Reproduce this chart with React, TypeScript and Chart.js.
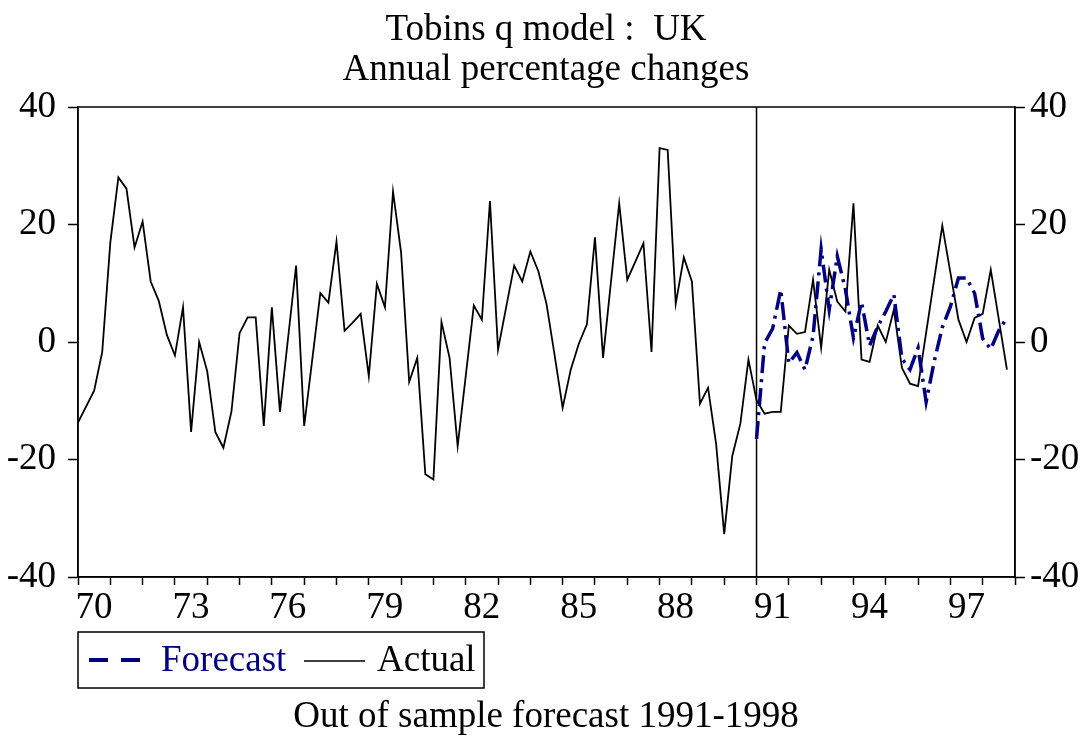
import { useEffect, useRef } from 'react';
import { Chart, registerables } from 'chart.js';

Chart.register(...registerables);

const FONT = "'Liberation Serif', 'Times New Roman', serif";
const TITLE_LINES = ['Tobins q model :  UK', 'Annual percentage changes'];
const CAPTION = 'Out of sample forecast 1991-1998';
const LEGEND_LABELS = ['Forecast', 'Actual'];

const START_YEAR = 1970;
const END_YEAR = 1999;
const FORECAST_START = 1991;

const xTickYears = [1970, 1971, 1972, 1973, 1974, 1975, 1976, 1977, 1978, 1979, 1980, 1981, 1982, 1983, 1984, 1985, 1986, 1987, 1988, 1989, 1990, 1991, 1992, 1993, 1994, 1995, 1996, 1997, 1998, 1999];
const xLabelYears = [1970, 1973, 1976, 1979, 1982, 1985, 1988, 1991, 1994, 1997];
const xLabelTexts = ['70', '73', '76', '79', '82', '85', '88', '91', '94', '97'];
const yTicks = [-40, -20, 0, 20, 40];

// Quarterly values, 1970Q1 .. 1998Q4
const actual = [
  -13.7, -11.0, -8.3, -1.7,
  16.9, 28.0, 26.1, 16.1,
  20.5, 10.3, 7.0, 1.2,
  -2.3, 5.9, -15.3, 0.0,
  -5.0, -15.3, -18.0, -11.8,
  1.5, 4.2, 4.2, -14.3,
  5.9, -11.9, 0.6, 13.0,
  -14.3, -3.0, 8.3, 6.7,
  17.1, 1.9, 3.3, 4.8,
  -5.8, 9.9, 5.9, 25.6,
  15.2, -6.8, -2.7, -22.5,
  -23.4, 3.4, -2.7, -17.7,
  -5.8, 6.2, 3.8, 24.0,
  -1.3, 5.9, 13.0, 10.3,
  15.4, 12.0, 6.5, -2.2,
  -11.2, -4.7, -0.3, 3.0,
  17.8, -2.7, 10.5, 23.6,
  10.6, 13.7, 16.8, -1.7,
  33.0, 32.7, 6.5, 14.4,
  10.3, -10.5, -7.8, -17.4,
  -32.7, -19.4, -13.9, -3.0,
  -9.9, -12.2, -11.9, -11.9,
  2.8, 1.4, 1.7, 10.6,
  -1.0, 12.3, 6.9, 5.2,
  23.6, -3.0, -3.4, 2.8,
  0.0, 5.5, -4.4, -7.1,
  -7.5, 1.6, 10.7, 19.8,
  11.8, 3.8, 0.0, 4.1,
  4.8, 12.3, 3.8, -4.7,
];

// Quarterly forecast, 1991Q1 .. 1998Q4
const forecast = [
  -16.5, -0.2, 2.3, 8.9,
  -3.6, -1.8, -4.7, 1.0,
  15.8, 5.5, 14.6, 9.0,
  0.7, 6.8, -0.6, 2.6,
  5.2, 8.1, -2.8, -4.7,
  -1.0, -10.2, -3.3, 2.5,
  6.0, 10.9, 10.9, 8.3,
  0.6, -1.2, 2.0, 4.1,
];

const NAVY = '#000080';
const FORECAST_DASH = [18, 6, 3, 6];

export default function App() {
  const ref = useRef<HTMLCanvasElement | null>(null);

  useEffect(() => {
    const canvas = ref.current;
    if (!canvas) return;

    const actualPts = actual.map((v, i) => ({ x: START_YEAR + i / 4, y: v }));
    const forecastPts = forecast.map((v, i) => ({ x: FORECAST_START + i / 4, y: v }));

    const tickFont = { family: FONT, size: 37, lineHeight: 1.2 };

    const framePlugin = {
      id: 'frameAndLegend',
      beforeDatasetsDraw(chart: any) {
        const { ctx, chartArea: a, scales } = chart;
        ctx.save();
        ctx.strokeStyle = '#000';
        ctx.lineWidth = 1.5;
        ctx.strokeRect(a.left, a.top, a.right - a.left, a.bottom - a.top);
        const vx = scales.x.getPixelForValue(FORECAST_START);
        ctx.beginPath();
        ctx.moveTo(vx, a.top);
        ctx.lineTo(vx, a.bottom);
        ctx.stroke();
        ctx.restore();
      },
      afterDraw(chart: any) {
        const { ctx, chartArea: a } = chart;
        ctx.save();
        const boxL = a.left;
        const boxT = 632;
        const boxW = 406;
        const boxH = 56;
        const cy = boxT + boxH / 2;
        ctx.strokeStyle = '#000';
        ctx.lineWidth = 1.5;
        ctx.strokeRect(boxL, boxT, boxW, boxH);

        // Forecast sample
        ctx.strokeStyle = NAVY;
        ctx.lineWidth = 4;
        ctx.setLineDash([19, 13]);
        ctx.beginPath();
        ctx.moveTo(boxL + 11, cy);
        ctx.lineTo(boxL + 62, cy);
        ctx.stroke();
        ctx.setLineDash([]);

        ctx.font = `37px ${FONT}`;
        ctx.textBaseline = 'middle';
        ctx.textAlign = 'left';
        ctx.fillStyle = NAVY;
        ctx.fillText(LEGEND_LABELS[0], boxL + 83, cy + 1);

        // Actual sample
        ctx.strokeStyle = '#000';
        ctx.lineWidth = 1.5;
        ctx.beginPath();
        ctx.moveTo(boxL + 226, cy + 1);
        ctx.lineTo(boxL + 287, cy + 1);
        ctx.stroke();

        ctx.fillStyle = '#000';
        ctx.fillText(LEGEND_LABELS[1], boxL + 299, cy + 1);
        ctx.restore();
      },
    };

    const yAxisCommon = {
      min: -40,
      max: 40,
      afterBuildTicks: (s: any) => {
        s.ticks = yTicks.map((v) => ({ value: v }));
      },
      grid: { drawOnChartArea: false, drawTicks: true, tickLength: 10, tickColor: '#000', tickWidth: 1.5 },
      border: { display: true, color: '#000', width: 1.5 },
    };

    const chart = new Chart(canvas, {
      type: 'line',
      data: {
        datasets: [
          {
            label: LEGEND_LABELS[0],
            data: forecastPts,
            borderColor: NAVY,
            borderWidth: 3.5,
            borderDash: FORECAST_DASH,
            pointRadius: 0,
            tension: 0,
            fill: false,
            order: 1,
          },
          {
            label: LEGEND_LABELS[1],
            data: actualPts,
            borderColor: '#000',
            borderWidth: 1.8,
            pointRadius: 0,
            tension: 0,
            fill: false,
            order: 2,
          },
        ],
      },
      options: {
        responsive: false,
        animation: false,
        layout: { padding: 0 },
        plugins: {
          legend: { display: false },
          tooltip: { enabled: false },
          title: {
            display: true,
            text: TITLE_LINES,
            color: '#000',
            font: { family: FONT, size: 37, weight: 'normal', lineHeight: 40 / 37 },
            padding: { top: 10, bottom: 17 },
          },
          subtitle: {
            display: true,
            position: 'bottom',
            text: CAPTION,
            color: '#000',
            font: { family: FONT, size: 37, weight: 'normal', lineHeight: 40 / 37 },
            padding: { top: 0, bottom: 1 },
          },
        },
        scales: {
          x: {
            type: 'linear',
            position: 'bottom',
            min: START_YEAR,
            max: END_YEAR,
            afterBuildTicks: (s: any) => {
              s.ticks = xTickYears.map((v) => ({ value: v }));
            },
            afterFit: (s: any) => {
              s.height = 120;
            },
            grid: { drawOnChartArea: false, drawTicks: true, tickLength: 8, tickColor: '#000', tickWidth: 1.5 },
            border: { display: true, color: '#000', width: 1.5 },
            ticks: {
              autoSkip: false,
              maxRotation: 0,
              minRotation: 0,
              labelOffset: 16,
              padding: 1,
              color: '#000',
              font: tickFont,
              callback: (v: any) => {
                const k = xLabelYears.indexOf(Number(v));
                return k >= 0 ? xLabelTexts[k] : '';
              },
            },
          },
          y: {
            ...yAxisCommon,
            type: 'linear',
            position: 'left',
            afterFit: (s: any) => {
              s.width = 78;
            },
            ticks: { padding: 12, color: '#000', font: tickFont },
          },
          y2: {
            ...yAxisCommon,
            type: 'linear',
            position: 'right',
            afterFit: (s: any) => {
              s.width = 77;
            },
            ticks: { padding: 5, color: '#000', font: tickFont },
          },
        },
      },
      plugins: [framePlugin],
    } as any);

    return () => {
      chart.destroy();
    };
  }, []);

  return (
    <div style={{ position: 'absolute', left: 0, top: 0, width: 1092, height: 738, background: '#fff' }}>
      <canvas ref={ref} width={1092} height={738} style={{ display: 'block' }} />
    </div>
  );
}
